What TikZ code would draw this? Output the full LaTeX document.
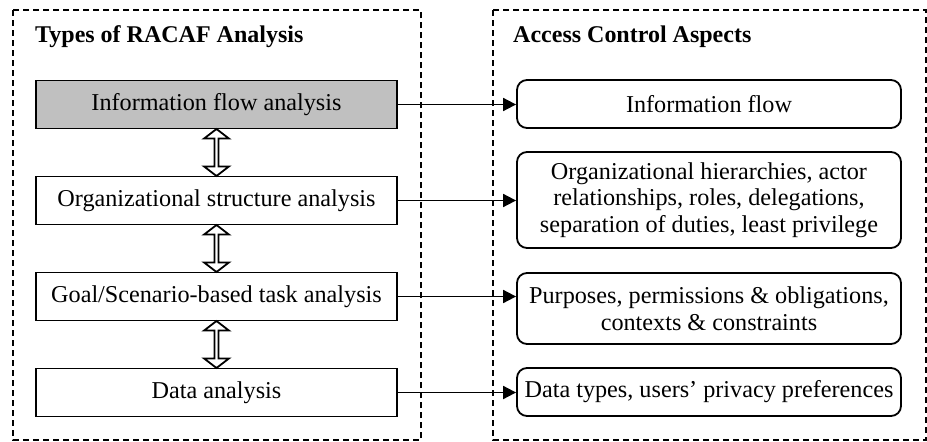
\documentclass[tikz,border=0pt]{standalone}
\usepackage{fontspec}
\setmainfont{Liberation Serif}
\usepackage{tikz}
\usetikzlibrary{arrows.meta,positioning,shapes.arrows,calc}
\definecolor{boxgray}{HTML}{C0C0C0}
\tikzset{
  typebox/.style={draw=black, fill=white, line width=1.8pt,
        minimum width=361pt, minimum height=48pt, inner sep=0pt, align=center,
        font=\fontsize{24.2}{26.5}\selectfont},
  aspectbox/.style={draw=black, fill=white, line width=1.8pt, rounded corners=10pt,
        minimum width=384pt, inner sep=2pt, align=center,
        font=\fontsize{24.2}{26.5}\selectfont},
  frame/.style={draw=black, line width=1.7pt, dash pattern=on 6pt off 4pt},
  colhead/.style={anchor=base west, inner sep=0pt, font=\fontsize{24}{26}\selectfont\bfseries},
  link/.style={-{Triangle[length=13pt, width=13pt]}, line width=1.8pt},
  swap/.style={draw=black, fill=white, line width=1.8pt, double arrow, rotate=90,
        minimum height=47pt, minimum width=25pt, inner sep=0pt,
        double arrow head extend=5pt, double arrow tip angle=105}
}
\begin{document}
\begin{tikzpicture}[x=1pt, y=-1pt]
\useasboundingbox (0,0) rectangle (927,442);

% dashed column frames
\draw[frame] (13,10) rectangle (421,440);
\draw[frame] (493,10) rectangle (926,440);
\node[colhead] (th) at (35,42)  {Types of RACAF Analysis};
\node[colhead] (ah) at (513,42) {Access Control Aspects};

% analysis types
\node[typebox, fill=boxgray] (info) at (216.5,104.5) {Information flow analysis};
\node[typebox] (org)  at (216.5,200.5) {Organizational structure analysis};
\node[typebox] (goal) at (216.5,296.5) {Goal/Scenario-based task analysis};
\node[typebox] (data) at (216.5,392.5) {Data analysis};

% aspects
\node[aspectbox, minimum height=48pt] (flow) at (709,104) {Information flow};
\node[aspectbox, minimum height=96pt] (hier) at (709,200)
  {Organizational hierarchies, actor\\relationships, roles, delegations,\\separation of duties, least privilege};
\node[aspectbox, minimum height=71pt] (purp) at (709,308.5)
  {Purposes, permissions \& obligations,\\contexts \& constraints};
\node[aspectbox, minimum height=48pt] (dtyp) at (709,392) {Data types, users' privacy preferences};

% hollow two-way arrows between the types
\node[swap] (s1) at ($(info.south)!0.5!(org.north)$) {};
\node[swap] (s2) at ($(org.south)!0.5!(goal.north)$) {};
\node[swap] (s3) at ($(goal.south)!0.5!(data.north)$) {};

\draw[link] (info.east) -- (info.east -| flow.west);
\draw[link] (org.east)  -- (org.east -| hier.west);
\draw[link] (goal.east) -- (goal.east -| purp.west);
\draw[link] (data.east) -- (data.east -| dtyp.west);
\end{tikzpicture}
\end{document}
